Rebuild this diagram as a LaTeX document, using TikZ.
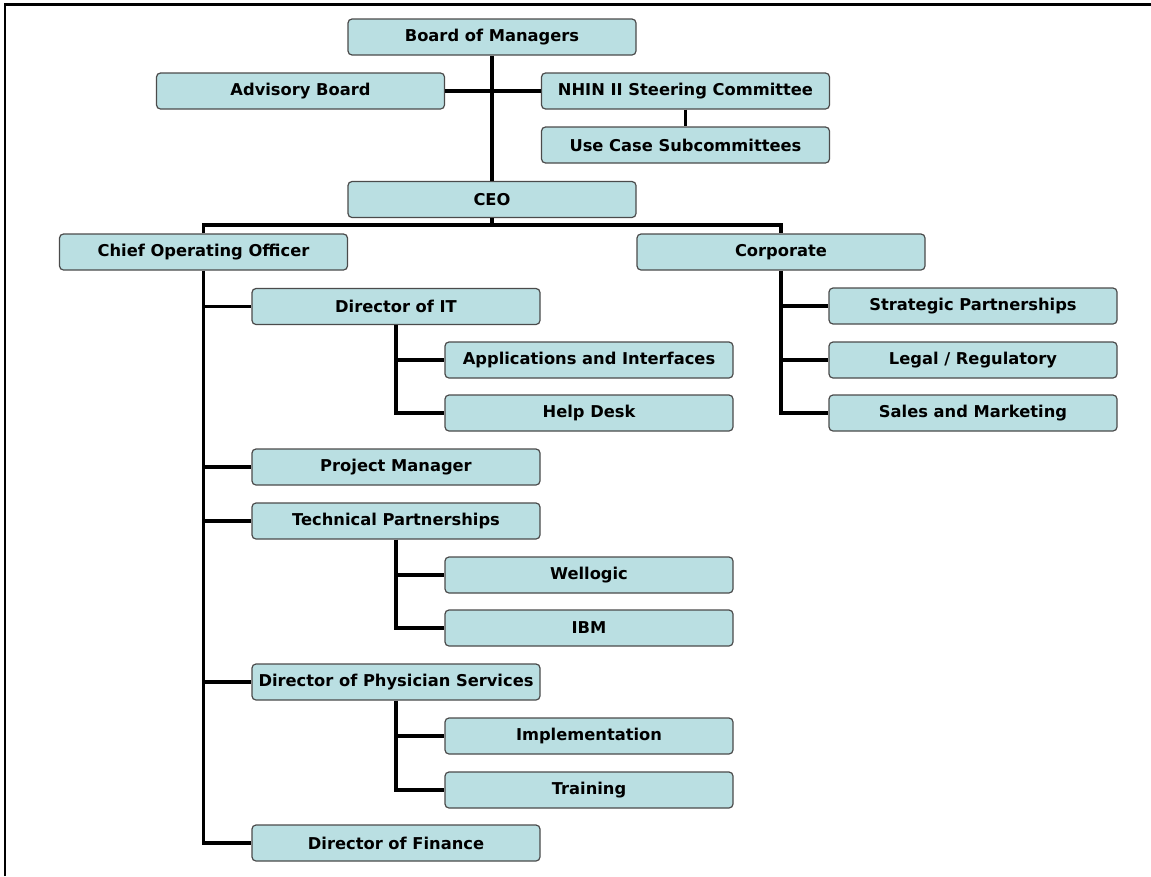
\documentclass[tikz,border=0pt]{standalone}
\usepackage{fontspec}
\setmainfont{DejaVu Sans}
\definecolor{boxfill}{RGB}{186,223,226}
\definecolor{boxline}{RGB}{75,75,75}
\begin{document}
\begin{tikzpicture}[x=1pt,y=-1pt,
  orgbox/.style={draw=boxline, line width=1.2pt, fill=boxfill, rounded corners=4pt,
    minimum width=288pt, minimum height=36pt, inner sep=0pt,
    font=\fontsize{16.3}{19}\selectfont\bfseries},
  link/.style={line width=3.2pt, draw=black}]
\useasboundingbox (0,0) rectangle (1151,876);
% frame (top and left only)
\draw[line width=2.6pt] (5,876) -- (5,4.2) -- (1151,4.2);

\coordinate (bus) at (492,225);

\node[orgbox] (board) at (492,37) {Board of Managers};
\node[orgbox] (advisory) at (300.5,91) {Advisory Board};
\node[orgbox] (nhin) at (685.5,91) {NHIN II Steering Committee};
\node[orgbox] (usecase) at (685.5,145) {Use Case Subcommittees};
\node[orgbox] (ceo) at (492,199.5) {CEO};
\node[orgbox] (coo) at (203.5,252) {Chief Operating Officer};
\node[orgbox] (corp) at (781,252) {Corporate};
\node[orgbox] (dirit) at (396,306.5) {Director of IT};
\node[orgbox] (apps) at (589,360) {Applications and Interfaces};
\node[orgbox] (help) at (589,413) {Help Desk};
\node[orgbox] (pm) at (396,467) {Project Manager};
\node[orgbox] (tech) at (396,521) {Technical Partnerships};
\node[orgbox] (wellogic) at (589,575) {Wellogic};
\node[orgbox] (ibm) at (589,628) {IBM};
\node[orgbox] (phys) at (396,682) {Director of Physician Services};
\node[orgbox] (impl) at (589,736) {Implementation};
\node[orgbox] (train) at (589,790) {Training};
\node[orgbox] (fin) at (396,843) {Director of Finance};
\node[orgbox] (strat) at (973,306) {Strategic Partnerships};
\node[orgbox] (legal) at (973,360) {Legal / Regulatory};
\node[orgbox] (sales) at (973,413) {Sales and Marketing};

\draw[link] (board.south) -- (ceo.north);
\draw[link] (advisory.east) -- (nhin.west);
\draw[link] (nhin.south) -- (usecase.north);
\draw[link] (ceo.south) -- (bus);
\draw[link] (coo.north) |- (bus) -| (corp.north);

\draw[link] (coo.south) |- (fin.west);
\foreach \n in {dirit,pm,tech,phys}
  \draw[link] (coo.south |- \n.west) -- (\n.west);

\draw[link] (dirit.south) |- (help.west);
\draw[link] (dirit.south |- apps.west) -- (apps.west);
\draw[link] (tech.south) |- (ibm.west);
\draw[link] (tech.south |- wellogic.west) -- (wellogic.west);
\draw[link] (phys.south) |- (train.west);
\draw[link] (phys.south |- impl.west) -- (impl.west);

\draw[link] (corp.south) |- (sales.west);
\draw[link] (corp.south |- strat.west) -- (strat.west);
\draw[link] (corp.south |- legal.west) -- (legal.west);
\end{tikzpicture}
\end{document}
